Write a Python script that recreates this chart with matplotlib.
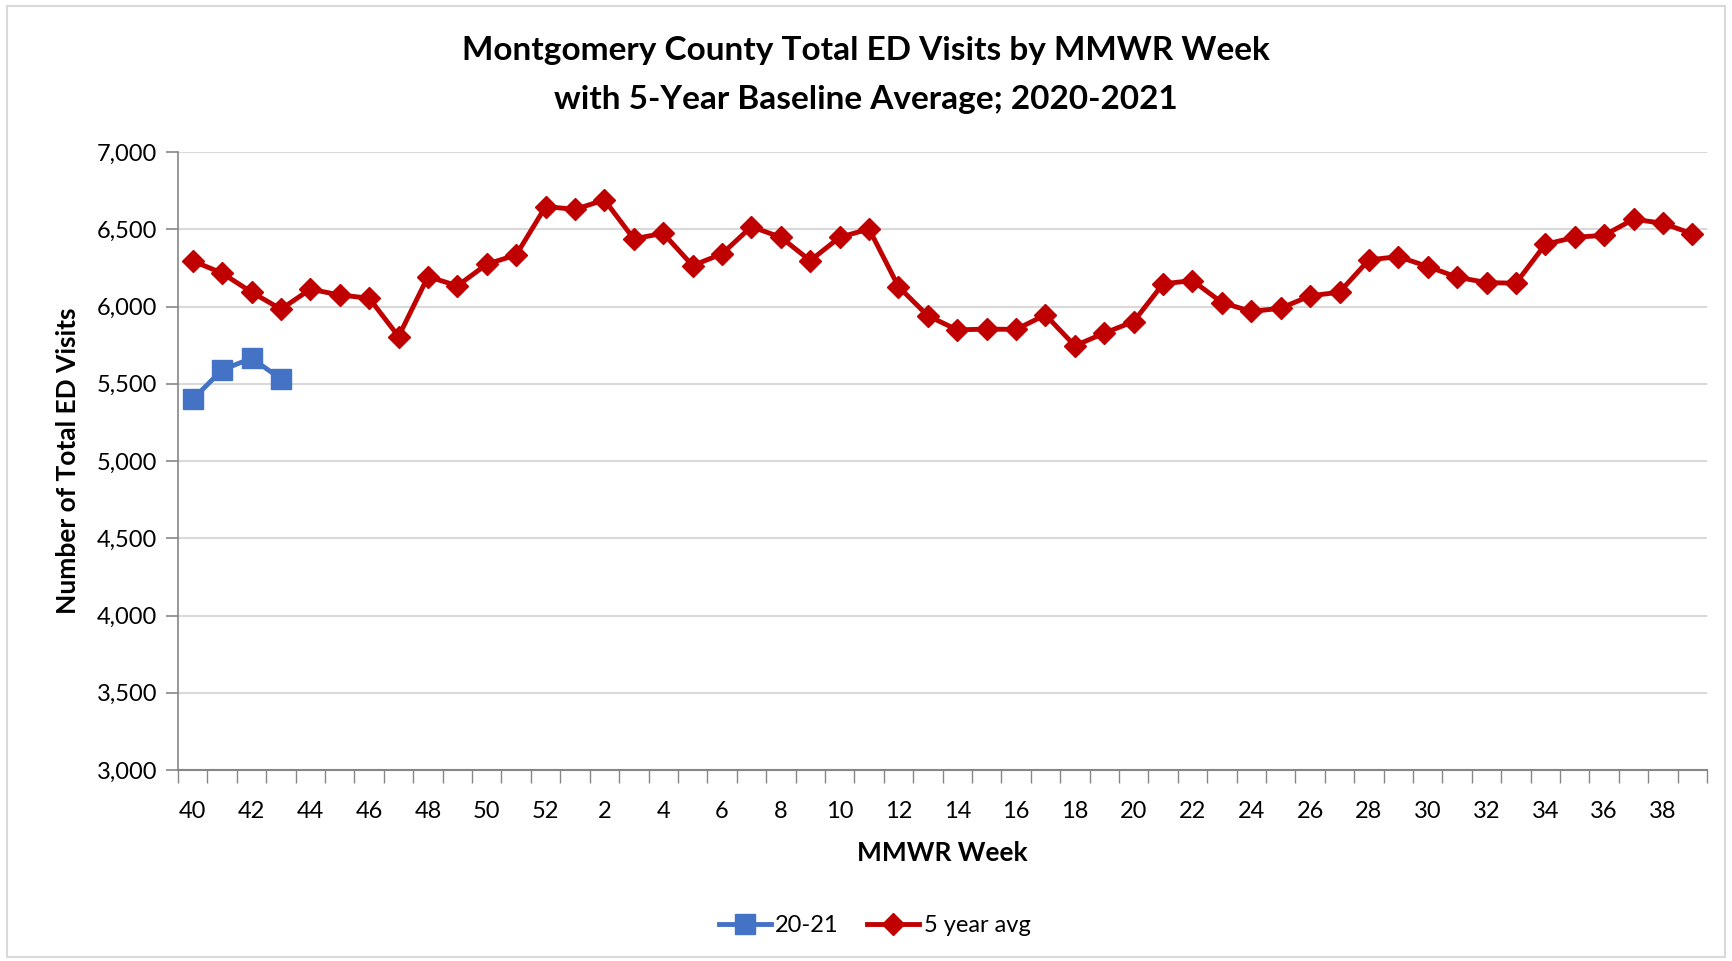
import matplotlib.pyplot as plt
from matplotlib.patches import Rectangle
from matplotlib.ticker import FuncFormatter, FixedLocator

plt.rcParams['font.family'] = ['Lato', 'DejaVu Sans']

# MMWR weeks, week 40 of 2020 through week 39 of 2021
weeks = [40, 41, 42, 43, 44, 45, 46, 47, 48, 49, 50, 51, 52,
         1, 2, 3, 4, 5, 6, 7, 8, 9, 10, 11, 12, 13, 14, 15, 16, 17, 18, 19,
         20, 21, 22, 23, 24, 25, 26, 27, 28, 29, 30, 31, 32, 33, 34, 35, 36,
         37, 38, 39]

# current season (only first 4 weeks reported)
visits_2021 = [5400, 5590, 5665, 5532]

# 5 year baseline average
avg_5yr = [6295, 6216, 6093, 5983, 6112, 6075, 6054, 5806, 6194, 6134,
           6274, 6334, 6647, 6629, 6690, 6438, 6474, 6265, 6341, 6517,
           6448, 6297, 6448, 6502, 6129, 5940, 5849, 5854, 5852, 5946,
           5746, 5828, 5903, 6147, 6168, 6026, 5968, 5989, 6069, 6093,
           6302, 6323, 6259, 6190, 6155, 6151, 6403, 6448, 6461, 6565,
           6539, 6470]

blue = '#4472C4'
red = '#C00000'

fig = plt.figure(figsize=(17.32, 9.61), dpi=100)
ax = fig.add_axes([0.1028, 0.1987, 0.8828, 0.6431])

x = list(range(len(weeks)))
ax.plot(x[:len(visits_2021)], visits_2021, color=blue, lw=3.5,
        marker='s', ms=14, label='20-21', zorder=3)
ax.plot(x, avg_5yr, color=red, lw=3.5, marker='D', ms=11,
        label='5 year avg', zorder=3)

ax.set_ylim(3000, 7000)
ax.set_xlim(-0.5, len(weeks) - 0.5)
ax.set_yticks(range(3000, 7001, 500))
ax.yaxis.set_major_formatter(FuncFormatter(lambda v, p: f'{int(v):,}'))

# labels on every second week, tick marks on category borders
ax.set_xticks(x[::2])
ax.set_xticklabels([str(w) for w in weeks[::2]])
ax.xaxis.set_minor_locator(FixedLocator([i - 0.5 for i in range(len(weeks) + 1)]))
ax.tick_params(axis='x', which='major', length=0, pad=22, labelsize=17)
ax.tick_params(axis='x', which='minor', length=9, width=1, color='#868686',
               direction='out')
ax.tick_params(axis='y', length=9, width=1.2, color='#868686', labelsize=17,
               pad=6)

ax.grid(axis='y', color='#D9D9D9', lw=1.5)
ax.set_axisbelow(True)
for s in ['top', 'right']:
    ax.spines[s].set_visible(False)
ax.spines['left'].set_color('#868686')
ax.spines['left'].set_linewidth(1.2)
ax.spines['bottom'].set_color('#868686')
ax.spines['bottom'].set_linewidth(1.5)

ax.set_xlabel('MMWR Week', fontsize=19, fontweight='bold', labelpad=14)
ax.set_ylabel('Number of Total ED Visits', fontsize=19, fontweight='bold',
              labelpad=12)

fig.text(0.5, 0.922, 'Montgomery County Total ED Visits by MMWR Week\n'
         'with 5-Year Baseline Average; 2020-2021',
         ha='center', va='center', fontsize=24, fontweight='bold',
         linespacing=1.8)

fig.legend(loc='center', bbox_to_anchor=(0.505, 0.037), ncol=2, frameon=False,
           fontsize=17, handlelength=2.2, columnspacing=1.2, handletextpad=0.2)

# light chart border
fig.patches.append(Rectangle((0.004, 0.004), 0.992, 0.99, transform=fig.transFigure,
                             fill=False, edgecolor='#D9D9D9', lw=1.5))

fig.savefig('out.png', dpi=100)
